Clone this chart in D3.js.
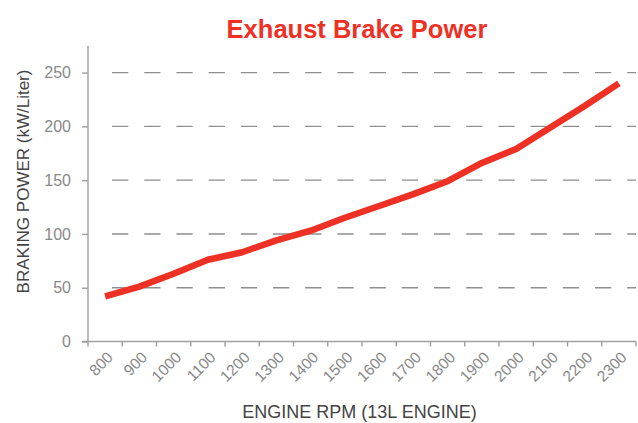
<!DOCTYPE html>
<html>
<head>
<meta charset="utf-8">
<script src="https://cdn.jsdelivr.net/npm/d3@7"></script>
<style>
  html, body { margin: 0; padding: 0; background: #fff; }
  svg { display: block; }
</style>
</head>
<body>
<svg id="chart" width="638" height="423"></svg>
<script>
// ---- data ----
const rpmCategories = ["800","900","1000","1100","1200","1300","1400","1500","1600","1700","1800","1900","2000","2100","2200","2300"];
const brakingPower = [42, 51, 63, 76, 83, 94, 103, 115, 126, 137, 149, 166, 179, 199, 219, 240];
const yTickValues = [0, 50, 100, 150, 200, 250];
const chartTitle = "Exhaust Brake Power";
const xAxisTitle = "ENGINE RPM (13L ENGINE)";
const yAxisTitle = "BRAKING POWER (kW/Liter)";

(function () {
// ---- layout ----
const svg = d3.select("#chart");
const plotLeft = 88, plotRight = 636, plotTop = 45.7, plotBottom = 341.5;
const red = "#ee3124";
const axisGrey = "#a0a0a0";
const labelGrey = "#888";
const titleGrey = "#444";
const font = "'Liberation Sans', Arial, sans-serif";

const x = d3.scaleBand().domain(rpmCategories).range([plotLeft, plotRight]).paddingInner(0).paddingOuter(0);
const y = d3.scaleLinear().domain([0, 275]).range([plotBottom, plotTop]);

// gridlines (dashed)
svg.append("g").selectAll("line")
  .data(yTickValues.filter(v => v > 0))
  .join("line")
  .attr("x1", plotLeft + 24).attr("x2", plotRight)
  .attr("y1", d => y(d)).attr("y2", d => y(d))
  .attr("stroke", "#8f8f8f").attr("stroke-width", 1.4)
  .attr("stroke-dasharray", "16.3,15.9");

// y axis
const yAxis = d3.axisLeft(y).tickValues(yTickValues).tickSize(6).tickPadding(11);
const gy = svg.append("g").attr("transform", `translate(${plotLeft},0)`).call(yAxis);
gy.select(".domain").attr("stroke", axisGrey).attr("stroke-width", 1.4).attr("d", `M0,${plotTop}V${plotBottom}`);
gy.selectAll(".tick line").attr("stroke", axisGrey).attr("stroke-width", 1.4);
gy.selectAll(".tick text").attr("fill", labelGrey).style("font-family", font).style("font-size", "16px");

// x axis line and boundary ticks
const gx = svg.append("g");
gx.append("line").attr("x1", plotLeft - 6).attr("x2", plotRight).attr("y1", plotBottom).attr("y2", plotBottom)
  .attr("stroke", axisGrey).attr("stroke-width", 1.4);
const boundaries = rpmCategories.map(c => x(c)).concat([x(rpmCategories[rpmCategories.length - 1]) + x.bandwidth()]);
gx.selectAll("line.tk").data(boundaries).join("line").attr("class", "tk")
  .attr("x1", d => d).attr("x2", d => d).attr("y1", plotBottom).attr("y2", plotBottom + 5)
  .attr("stroke", axisGrey).attr("stroke-width", 1.4);
gx.selectAll("text").data(rpmCategories).join("text")
  .attr("transform", d => `translate(${x(d) + x.bandwidth() / 2 + 5},${plotBottom + 13}) rotate(-45)`)
  .attr("text-anchor", "end").attr("dy", "0.35em")
  .attr("fill", labelGrey).style("font-family", font).style("font-size", "15.5px")
  .text(d => d);

// line
const line = d3.line()
  .x((d, i) => x(rpmCategories[i]) + x.bandwidth() / 2)
  .y(d => y(d));
svg.append("path").datum(brakingPower)
  .attr("d", line).attr("fill", "none").attr("stroke", red)
  .attr("stroke-width", 6.5).attr("stroke-linejoin", "round");

// titles
svg.append("text").attr("x", 357).attr("y", 38).attr("text-anchor", "middle")
  .attr("fill", red).style("font-family", font).style("font-weight", "bold").style("font-size", "25.5px")
  .text(chartTitle);
svg.append("text").attr("x", 359.5).attr("y", 418).attr("text-anchor", "middle")
  .attr("fill", titleGrey).style("font-family", font).style("font-size", "18px")
  .text(xAxisTitle);
svg.append("text").attr("transform", `translate(29,181.5) rotate(-90)`).attr("text-anchor", "middle")
  .attr("fill", titleGrey).style("font-family", font).style("font-size", "17px")
  .text(yAxisTitle);
})();
</script>
</body>
</html>
